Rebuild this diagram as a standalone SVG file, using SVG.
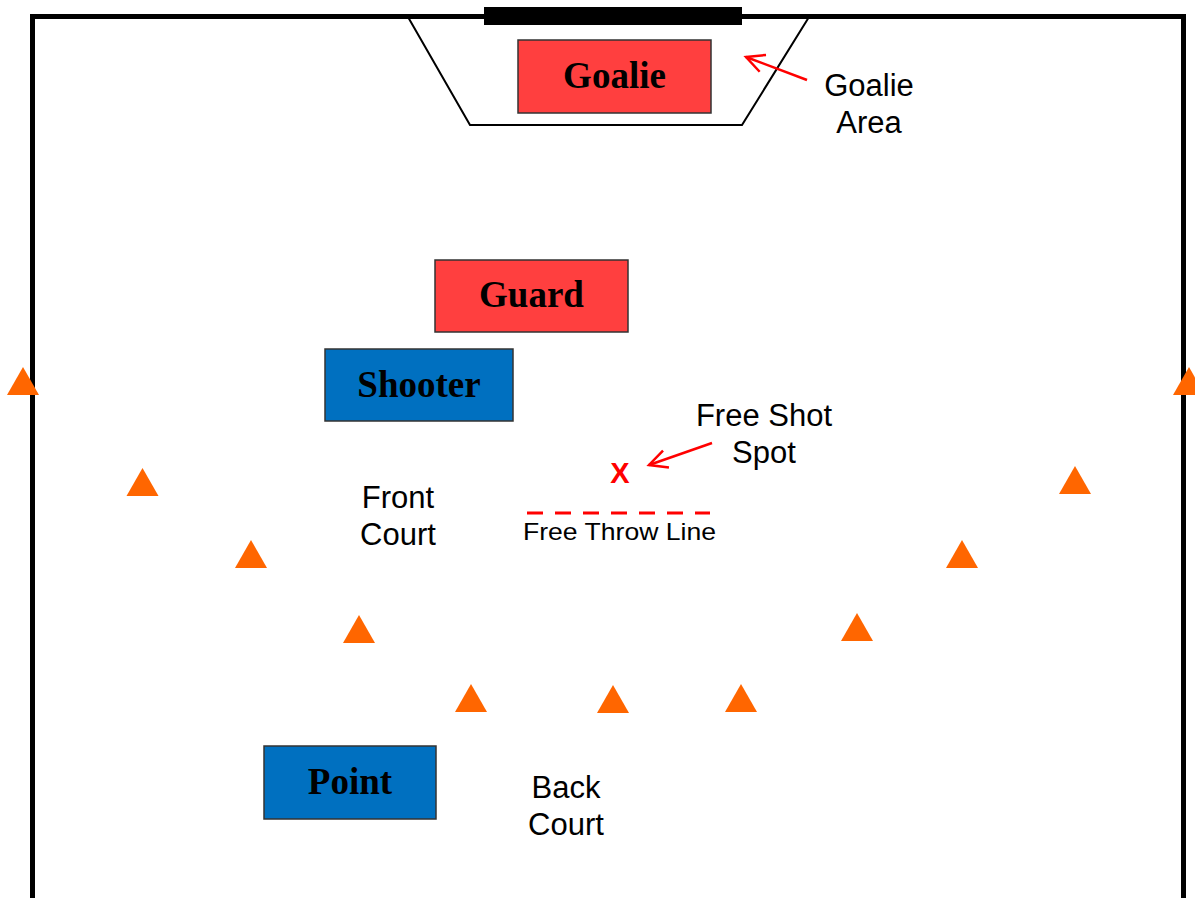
<svg xmlns="http://www.w3.org/2000/svg" width="1195" height="898" viewBox="0 0 1195 898">
<style>
.box{stroke:#333;stroke-width:1.5}
.red{fill:#FF3F3F}
.blue{fill:#0070C0}
.lbl{font-family:"Liberation Serif",serif;font-weight:bold;font-size:37px;text-anchor:middle;fill:#000}
.txt{font-family:"Liberation Sans",Arial,sans-serif;font-size:31px;text-anchor:middle;fill:#000}
.cone{fill:#FF6600}
.arr{stroke:#FF0000;stroke-width:2.5;fill:none}
</style>
<defs>
<marker id="open" markerWidth="22" markerHeight="22" refX="19" refY="11" orient="auto" markerUnits="userSpaceOnUse" viewBox="0 0 22 22">
<path d="M1,2 L19,11 L1,20" fill="none" stroke="#FF0000" stroke-width="2.5"/>
</marker>
<path id="tri" d="M0,0 L16,28 L-16,28 Z"/>
</defs>
<rect width="1195" height="898" fill="#fff"/>
<g id="court">
<path d="M32.5,900 L32.5,16.5 L1183.5,16.5 L1183.5,900" fill="none" stroke="#000" stroke-width="5"/>
<path d="M408,17 L470,125 L742,125 L809,17" fill="none" stroke="#000" stroke-width="2"/>
<rect x="484" y="7" width="258" height="18" fill="#000"/>
</g>
<g id="cones" class="cone">
<use href="#tri" x="23" y="367"/>
<use href="#tri" x="142.5" y="468"/>
<use href="#tri" x="251" y="540"/>
<use href="#tri" x="359" y="615"/>
<use href="#tri" x="471" y="684"/>
<use href="#tri" x="613" y="685"/>
<use href="#tri" x="741" y="684"/>
<use href="#tri" x="857" y="613"/>
<use href="#tri" x="962" y="540"/>
<use href="#tri" x="1075" y="466"/>
<use href="#tri" x="1189" y="367"/>
</g>
<g id="goalie">
<rect class="box red" x="518" y="40" width="193" height="73"/>
<text class="lbl" x="614.5" y="88">Goalie</text>
</g>
<g id="guard">
<rect class="box red" x="435" y="260" width="193" height="72"/>
<text class="lbl" x="531.5" y="307">Guard</text>
</g>
<g id="shooter">
<rect class="box blue" x="325" y="349" width="188" height="72"/>
<text class="lbl" x="419" y="397">Shooter</text>
</g>
<g id="point">
<rect class="box blue" x="264" y="746" width="172" height="73"/>
<text class="lbl" x="350" y="794">Point</text>
</g>
<g id="freethrow">
<line x1="527" y1="513" x2="710" y2="513" stroke="#FF0000" stroke-width="3" stroke-dasharray="16,12"/>
<text x="523" y="540" font-family="'Liberation Sans',Arial,sans-serif" font-size="24" fill="#000" textLength="193" lengthAdjust="spacingAndGlyphs">Free Throw Line</text>
</g>
<g id="spot">
<text x="620" y="483" font-family="'Liberation Sans',Arial,sans-serif" font-size="29" font-weight="bold" text-anchor="middle" fill="#FF0000">X</text>
</g>
<g id="labels">
<text class="txt" x="869" y="96">Goalie</text>
<text class="txt" x="869" y="133">Area</text>
<text class="txt" x="764" y="426">Free Shot</text>
<text class="txt" x="764" y="463">Spot</text>
<text class="txt" x="398" y="508">Front</text>
<text class="txt" x="398" y="545">Court</text>
<text class="txt" x="566" y="798">Back</text>
<text class="txt" x="566" y="835">Court</text>
</g>
<g id="connectors">
<line class="arr" x1="807" y1="80" x2="746" y2="57" marker-end="url(#open)"/>
<line class="arr" x1="712" y1="443" x2="649" y2="465" marker-end="url(#open)"/>
</g>
</svg>
